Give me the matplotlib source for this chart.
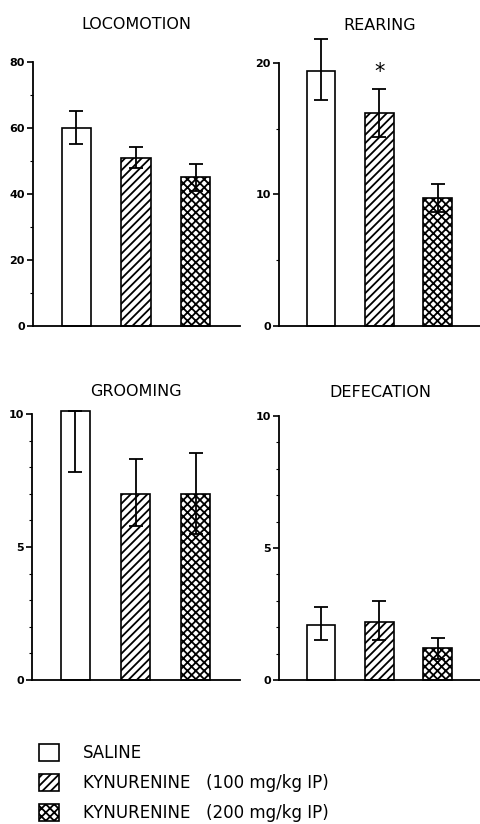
import matplotlib.pyplot as plt
from matplotlib.patches import Patch
from matplotlib.ticker import MultipleLocator

plt.rcParams['font.family'] = ['DejaVu Sans']
plt.rcParams['hatch.linewidth'] = 1.3

groups = ['SALINE', 'KYNURENINE   (100 mg/kg IP)', 'KYNURENINE   (200 mg/kg IP)']
hatches = ['', '////', 'xxxx']

locomotion = [60, 51, 45]
locomotion_lo = [5, 3, 4]
locomotion_hi = [5, 3.3, 4]

rearing = [19.4, 16.2, 9.7]
rearing_lo = [2.2, 1.8, 1.0]
rearing_hi = [2.4, 1.8, 1.1]

grooming = [10.1, 7.0, 7.0]
grooming_lo = [2.3, 1.2, 1.5]
grooming_hi = [0, 1.3, 1.55]

defecation = [2.1, 2.2, 1.2]
defecation_lo = [0.6, 0.7, 0.4]
defecation_hi = [0.65, 0.8, 0.4]

panels = [
    ('LOCOMOTION', locomotion, locomotion_lo, locomotion_hi, 80, 20, 10,
     [0.069, 0.6044, 0.43, 0.3204], 24),
    ('REARING', rearing, rearing_lo, rearing_hi, 20, 10, 5,
     [0.580, 0.6044, 0.42, 0.3192], 24),
    ('GROOMING', grooming, grooming_lo, grooming_hi, 10, 5, 1,
     [0.067, 0.1748, 0.432, 0.3228], 13),
    ('DEFECATION', defecation, defecation_lo, defecation_hi, 10, 5, 1,
     [0.580, 0.1748, 0.42, 0.3204], 14),
]

fig = plt.figure(figsize=(4.81, 8.24), dpi=100)

for title, vals, lo, hi, ymax, major, minor, rect, tpad in panels:
    ax = fig.add_axes(rect)
    x = range(len(vals))
    for i in x:
        ax.bar(i, vals[i], width=0.49, color='white', edgecolor='black',
               linewidth=1.2, hatch=hatches[i], clip_on=False, zorder=2)
        ax.errorbar(i, vals[i], yerr=[[lo[i]], [hi[i]]], fmt='none',
                    ecolor='black', elinewidth=1.3, capsize=5, capthick=1.3,
                    clip_on=False, zorder=3)
    ax.set_xlim(-0.72, 2.74)
    ax.set_ylim(0, ymax)
    ax.yaxis.set_major_locator(MultipleLocator(major))
    ax.yaxis.set_minor_locator(MultipleLocator(minor))
    ax.tick_params(axis='y', which='major', length=4, width=1.2,
                   labelsize=8, pad=2)
    ax.tick_params(axis='y', which='minor', length=2, width=0.8)
    for lab in ax.get_yticklabels():
        lab.set_fontweight('bold')
    ax.set_xticks([])
    for s in ['top', 'right']:
        ax.spines[s].set_visible(False)
    ax.spines['left'].set_linewidth(1.3)
    ax.spines['bottom'].set_linewidth(1.3)
    ax.set_title(title, fontsize=11.5, pad=tpad)
    if title == 'REARING':
        ax.text(1, 19.3, '*', ha='center', va='center', fontsize=15)

handles = [Patch(facecolor='white', edgecolor='black', hatch=h, linewidth=1.2)
           for h in hatches]
fig.legend(handles, groups, loc='lower left', bbox_to_anchor=(0.05, -0.016),
           frameon=False, fontsize=12, handlelength=1.2, handleheight=1.2,
           handletextpad=1.45, labelspacing=0.72)

fig.savefig('out.png', dpi=100)
